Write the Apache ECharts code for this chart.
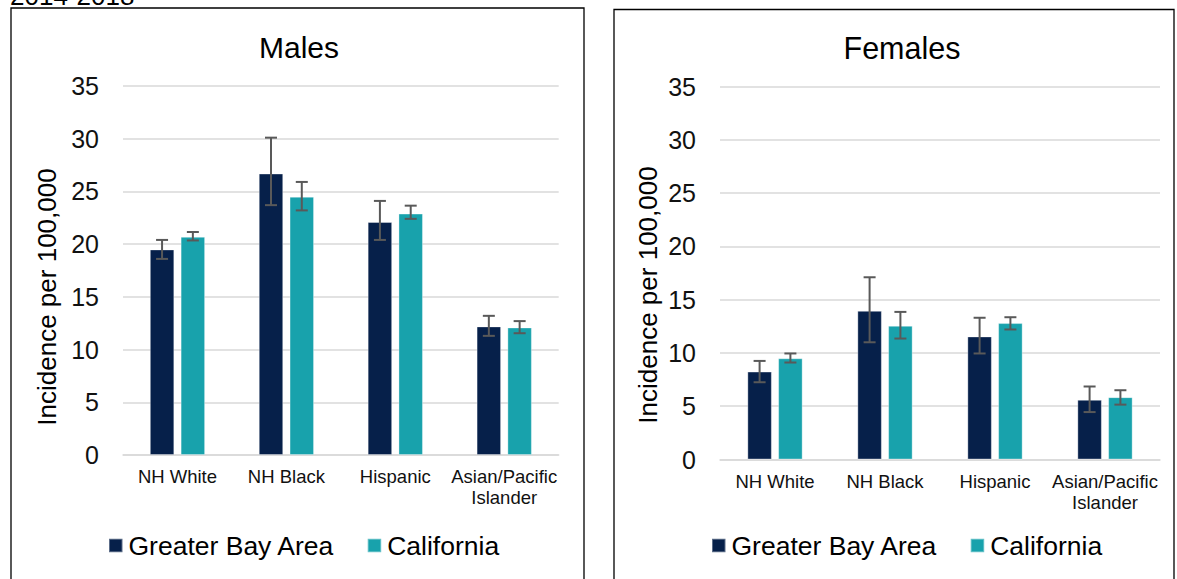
<!DOCTYPE html>
<html>
<head>
<meta charset="utf-8">
<script src="https://cdn.jsdelivr.net/npm/echarts@6/dist/echarts.min.js"></script>
<style>
html,body{margin:0;padding:0;background:#fff;}
#chart{width:1177px;height:579px;}
</style>
</head>
<body>
<div id="chart"></div>
<script>
// ---- data ----
const categories = ['NH White', 'NH Black', 'Hispanic', 'Asian/Pacific Islander'];
const seriesNames = ['Greater Bay Area', 'California'];
const yTicks = { min: 0, max: 35, interval: 5 };

const malesGBA = [19.5, 26.7, 22.1, 12.2];
const malesGBALow = [18.6, 23.7, 20.4, 11.3];
const malesGBAHigh = [20.4, 30.1, 24.1, 13.2];
const malesCA = [20.7, 24.5, 22.9, 12.1];
const malesCALow = [20.35, 23.2, 22.4, 11.55];
const malesCAHigh = [21.15, 25.9, 23.65, 12.7];

const femalesGBA = [8.25, 13.95, 11.55, 5.6];
const femalesGBALow = [7.25, 11.0, 9.95, 4.45];
const femalesGBAHigh = [9.25, 17.1, 13.3, 6.85];
const femalesCA = [9.5, 12.55, 12.8, 5.85];
const femalesCALow = [9.1, 11.35, 12.2, 5.15];
const femalesCAHigh = [9.95, 13.85, 13.35, 6.5];

// ---- styles ----
const FONT = "'Liberation Sans', Arial, sans-serif";
const NAVY = '#06204A';
const TEAL = '#18A2AC';
const BAR_W = 24.5, GAP = 6.3;

function errData(low, high) {
  return low.map((l, i) => [i, l, high[i]]);
}
function errRender(side) {
  return function (params, api) {
    const i = api.value(0);
    const lo = api.coord([i, api.value(1)]);
    const hi = api.coord([i, api.value(2)]);
    const x = lo[0] + side * (BAR_W + GAP) / 2;
    const c = 6;
    const st = { stroke: '#595959', lineWidth: 2 };
    return {
      type: 'group',
      children: [
        { type: 'line', shape: { x1: x, y1: hi[1], x2: x, y2: lo[1] }, style: st },
        { type: 'line', shape: { x1: x - c, y1: hi[1], x2: x + c, y2: hi[1] }, style: st },
        { type: 'line', shape: { x1: x - c, y1: lo[1], x2: x + c, y2: lo[1] }, style: st }
      ]
    };
  };
}

function xAx(idx) {
  return {
    type: 'category', gridIndex: idx, data: categories,
    axisLine: { lineStyle: { color: '#d9d9d9', width: 1.5 } },
    axisTick: { show: false },
    axisLabel: {
      fontSize: 18.5, color: '#111', fontFamily: FONT, margin: 11, lineHeight: 21,
      interval: 0,
      formatter: v => v.replace('Pacific ', 'Pacific\n')
    }
  };
}
function yAx(idx) {
  return {
    type: 'value', gridIndex: idx, min: yTicks.min, max: yTicks.max, interval: yTicks.interval,
    axisLine: { show: false }, axisTick: { show: false },
    splitLine: { lineStyle: { color: '#d9d9d9', width: 1.5 } },
    axisLabel: { fontSize: 25, color: '#111', fontFamily: FONT, margin: 24 }
  };
}
function barS(name, data, color, idx) {
  return {
    type: 'bar', name: name, data: data, xAxisIndex: idx, yAxisIndex: idx,
    barWidth: BAR_W, barGap: (GAP / BAR_W * 100).toFixed(1) + '%',
    itemStyle: { color: color, borderColor: 'rgba(255,255,255,0.35)', borderWidth: 1 },
    animation: false
  };
}
function errS(name, low, high, side, idx) {
  return {
    type: 'custom', name: name, xAxisIndex: idx, yAxisIndex: idx,
    data: errData(low, high), renderItem: errRender(side),
    encode: { x: 0, y: [1, 2] }, z: 10, animation: false, silent: true
  };
}
function legendAt(left, idx) {
  return {
    data: seriesNames, left: left, top: 532, padding: 0, orient: 'horizontal',
    icon: 'rect', itemWidth: 13.5, itemHeight: 13.5, itemGap: 32,
    textStyle: { fontSize: 26.5, color: '#000', fontFamily: FONT, padding: [0, 0, 0, 1] },
    selectedMode: false
  };
}

const chart = echarts.init(document.getElementById('chart'), null, { renderer: 'svg' });
chart.setOption({
  animation: false,
  backgroundColor: '#fff',
  textStyle: { fontFamily: FONT },
  title: [
    { text: 'Males', left: 299, top: 32, textAlign: 'center', padding: 0,
      textStyle: { fontSize: 30, fontWeight: 'normal', color: '#000', fontFamily: FONT } },
    { text: 'Females', left: 902, top: 32, textAlign: 'center', padding: 0,
      textStyle: { fontSize: 30.5, fontWeight: 'normal', color: '#000', fontFamily: FONT } }
  ],
  grid: [
    { left: 123, right: 1177 - 558.7, top: 86, bottom: 579 - 455 },
    { left: 720, right: 1177 - 1160, top: 86.5, bottom: 579 - 459.5 }
  ],
  xAxis: [xAx(0), xAx(1)],
  yAxis: [yAx(0), yAx(1)],
  legend: [legendAt(108, 0), legendAt(711, 1)],
  series: [
    barS(seriesNames[0], malesGBA, NAVY, 0),
    barS(seriesNames[1], malesCA, TEAL, 0),
    errS('m-gba-ci', malesGBALow, malesGBAHigh, -1, 0),
    errS('m-ca-ci', malesCALow, malesCAHigh, 1, 0),
    barS(seriesNames[0], femalesGBA, NAVY, 1),
    barS(seriesNames[1], femalesCA, TEAL, 1),
    errS('f-gba-ci', femalesGBALow, femalesGBAHigh, -1, 1),
    errS('f-ca-ci', femalesCALow, femalesCAHigh, 1, 1)
  ],
  graphic: [
    { type: 'rect', shape: { x: 11, y: 8, width: 573, height: 620 }, silent: true,
      style: { fill: 'none', stroke: '#000', lineWidth: 1.3 } },
    { type: 'rect', shape: { x: 614, y: 9.5, width: 560, height: 620 }, silent: true,
      style: { fill: 'none', stroke: '#000', lineWidth: 1.3 } },
    { type: 'text', x: 10, y: 9, silent: true,
      style: { text: '2014-2018', fontSize: 26, fontFamily: FONT, fill: '#000', verticalAlign: 'bottom' } },
    { type: 'text', x: 46.7, y: 297, rotation: Math.PI / 2, silent: true,
      style: { text: 'Incidence per 100,000', fontSize: 26, fontFamily: FONT, fill: '#000',
               align: 'center', verticalAlign: 'middle' } },
    { type: 'text', x: 648, y: 295, rotation: Math.PI / 2, silent: true,
      style: { text: 'Incidence per 100,000', fontSize: 26, fontFamily: FONT, fill: '#000',
               align: 'center', verticalAlign: 'middle' } }
  ]
});
</script>
</body>
</html>
